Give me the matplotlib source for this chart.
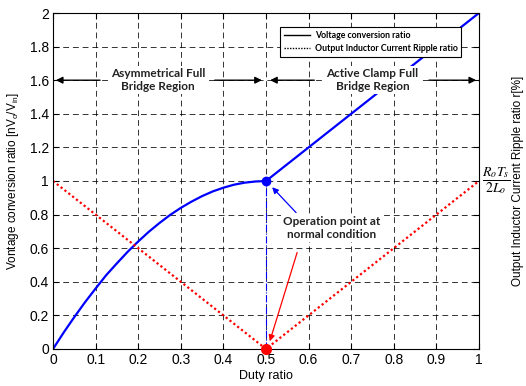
import numpy as np
import matplotlib
matplotlib.use("Agg")
import matplotlib.pyplot as plt
from matplotlib.lines import Line2D

plt.rcParams['font.family'] = ['Liberation Sans', 'DejaVu Sans']
plt.rcParams['mathtext.fontset'] = 'custom'
plt.rcParams['mathtext.rm'] = 'Liberation Sans'
plt.rcParams['mathtext.it'] = 'Liberation Sans:italic'

# voltage conversion ratio
duty = [0, 0.025, 0.05, 0.075, 0.1, 0.125, 0.15, 0.175, 0.2, 0.225, 0.25,
        0.275, 0.3, 0.325, 0.35, 0.375, 0.4, 0.425, 0.45, 0.475, 0.5,
        0.6, 0.7, 0.8, 0.9, 1.0]
ratio = [0, 0.098, 0.19, 0.278, 0.36, 0.44, 0.51, 0.578, 0.64, 0.698, 0.75,
         0.798, 0.84, 0.877, 0.91, 0.938, 0.96, 0.978, 0.99, 0.997, 1.0,
         1.2, 1.4, 1.6, 1.8, 2.0]

# ripple ratio (dotted red)
ripple_duty = [0, 0.5, 1.0]
ripple = [1.0, 0.0, 1.0]

op_point = (0.5, 1.0)
op_ripple = (0.5, 0.0)

xticks = [0, 0.1, 0.2, 0.3, 0.4, 0.5, 0.6, 0.7, 0.8, 0.9, 1]
xtick_labels = ['0', '0.1', '0.2', '0.3', '0.4', '0.5', '0.6', '0.7', '0.8', '0.9', '1']
yticks = [0, 0.2, 0.4, 0.6, 0.8, 1, 1.2, 1.4, 1.6, 1.8, 2]
ytick_labels = ['0', '0.2', '0.4', '0.6', '0.8', '1', '1.2', '1.4', '1.6', '1.8', '2']

bold = dict(family=['Lato', 'DejaVu Sans'], fontweight='bold')
box = dict(facecolor='white', edgecolor='none', pad=1.5)

fig = plt.figure(figsize=(5.26, 3.86), dpi=100)
ax = fig.add_axes([0.1008, 0.0959, 0.8098, 0.8704])

ax.plot(duty, ratio, color='blue', lw=1.6)
ax.plot(ripple_duty, ripple, color='red', lw=1.6, linestyle=(0, (1, 1.2)))
ax.plot([0.5, 0.5], [0, 1], color='blue', lw=0.8, linestyle='-.')
ax.plot(*op_point, 'o', color='blue', ms=6, clip_on=False)
ax.plot(*op_ripple, 'o', color='red', ms=7, clip_on=False, zorder=5)

ax.set_xlim(0, 1)
ax.set_ylim(0, 2)
ax.set_xticks(xticks)
ax.set_xticklabels(xtick_labels)
ax.set_yticks(yticks)
ax.set_yticklabels(ytick_labels)
ax.tick_params(direction='in', top=True, right=True, labelsize=10, length=4, pad=3)
ax.grid(True, color='black', linestyle=(0, (6, 4)), lw=0.7, alpha=0.8)

ax.set_xlabel('Duty ratio', fontsize=9, labelpad=2)
ax.set_ylabel(r'Vontage conversion ratio [nV$_\mathrm{o}$/V$_\mathrm{in}$]', fontsize=8.5, labelpad=6)

fig.text(0.985, 0.531, 'Output Inductor Current Ripple ratio r[%]', rotation=90,
         ha='center', va='center', fontsize=8.5)
ax.text(1.04, 1.0, r'$\dfrac{R_o T_s}{2L_o}$', ha='center', va='center',
        fontsize=10, math_fontfamily='stix', clip_on=False)

# legend with black sample lines
handles = [Line2D([], [], color='black', lw=1),
           Line2D([], [], color='black', lw=1, linestyle=(0, (1, 1)))]
leg = ax.legend(handles, ['Voltage conversion ratio', 'Output Inductor Current Ripple ratio'],
                loc='upper right', bbox_to_anchor=(0.969, 0.97), fancybox=False,
                framealpha=1, edgecolor='black', prop=dict(family='Lato', weight='bold', size=6.3),
                handlelength=3.0, borderpad=0.4, labelspacing=0.5, handletextpad=0.6)
leg.get_frame().set_linewidth(0.8)

# region arrows
arrow = dict(arrowstyle='-|>', color='black', lw=1, mutation_scale=10)
ax.annotate('', xy=(0.0, 1.6), xytext=(0.117, 1.6), arrowprops=arrow)
ax.annotate('', xy=(0.497, 1.6), xytext=(0.373, 1.6), arrowprops=arrow)
ax.annotate('', xy=(0.503, 1.6), xytext=(0.62, 1.6), arrowprops=arrow)
ax.annotate('', xy=(1.0, 1.6), xytext=(0.876, 1.6), arrowprops=arrow)
ax.text(0.246, 1.6, 'Asymmetrical Full\nBridge Region', ha='center', va='center',
        fontsize=8.5, color='#222222', bbox=box, **bold)
ax.text(0.75, 1.6, 'Active Clamp Full\nBridge Region', ha='center', va='center',
        fontsize=8.5, color='#222222', bbox=box, **bold)

ax.text(0.655, 0.72, 'Operation point at\nnormal condition', ha='center', va='center',
        fontsize=8.5, color='#222222', bbox=box, **bold)
ax.annotate('', xy=(0.51, 0.975), xytext=(0.575, 0.8),
            arrowprops=dict(arrowstyle='-|>', color='blue', lw=0.9, mutation_scale=9))
ax.annotate('', xy=(0.507, 0.03), xytext=(0.575, 0.59),
            arrowprops=dict(arrowstyle='-|>', color='red', lw=0.9, mutation_scale=9))

fig.savefig('out.png', dpi=100)
